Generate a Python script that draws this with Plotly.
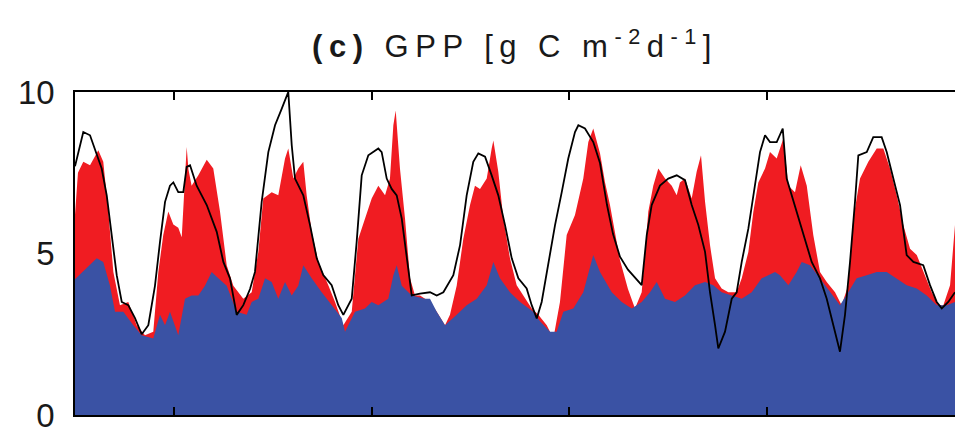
import plotly.graph_objects as go

# ---- data (decimal-year offsets from 1999, GPP in g C m-2 d-1) ----
T0 = 1999.0

obs_t = [0.000, 0.084, 0.152, 0.202, 0.270, 0.321, 0.371, 0.422, 0.473, 0.539, 0.607, 0.675, 0.742,
         0.809, 0.860, 0.911, 0.961, 0.995, 1.045, 1.096, 1.130, 1.164, 1.231, 1.333, 1.434, 1.501,
         1.568, 1.636, 1.703, 1.771, 1.821, 1.889, 1.956, 2.024, 2.091, 2.142, 2.158, 2.193, 2.226,
         2.310, 2.378, 2.446, 2.512, 2.597, 2.664, 2.715, 2.800, 2.850, 2.901, 2.968, 3.069, 3.103,
         3.154, 3.204, 3.255, 3.306, 3.372, 3.407, 3.491, 3.592, 3.660, 3.727, 3.828, 3.896, 3.963,
         4.030, 4.081, 4.149, 4.216, 4.283, 4.351, 4.419, 4.486, 4.570, 4.621, 4.672, 4.722, 4.789,
         4.857, 4.925, 4.991, 5.059, 5.093, 5.160, 5.244, 5.312, 5.383, 5.444, 5.514, 5.595, 5.687,
         5.734, 5.785, 5.835, 5.919, 6.003, 6.088, 6.172, 6.240, 6.307, 6.375, 6.425, 6.476, 6.509,
         6.577, 6.645, 6.695, 6.746, 6.813, 6.880, 6.931, 6.982, 7.032, 7.100, 7.161, 7.201, 7.252,
         7.319, 7.386, 7.454, 7.538, 7.606, 7.673, 7.740, 7.791, 7.842, 7.892, 7.926, 8.011, 8.077,
         8.162, 8.213, 8.280, 8.348, 8.415, 8.483, 8.583, 8.651, 8.719, 8.770, 8.836, 8.904]
obs_gpp = [7.7, 8.76, 8.66, 8.25, 7.63, 6.8, 5.57, 4.33, 3.5, 3.4, 3.0, 2.5, 2.78,
           4.0, 5.36, 6.6, 7.1, 7.2, 6.9, 6.9, 7.68, 7.73, 7.1, 6.5, 5.67, 4.74,
           4.23, 3.1, 3.4, 3.9, 4.43, 6.6, 8.14, 8.97, 9.48, 9.9, 10.0, 8.35, 7.32,
           6.8, 5.88, 4.85, 4.33, 4.02, 3.4, 3.1, 3.6, 5.36, 7.42, 8.04, 8.25, 8.14,
           7.32, 7.0, 6.8, 6.08, 4.54, 3.7, 3.76, 3.8, 3.7, 3.8, 4.33, 5.26, 6.8,
           7.84, 8.1, 8.0, 7.42, 6.8, 5.88, 4.85, 4.23, 3.92, 3.4, 2.99, 3.5, 4.74,
           5.88, 6.9, 7.94, 8.76, 8.97, 8.87, 8.45, 7.8, 6.5, 5.6, 4.9, 4.5, 4.2,
           4.02, 5.57, 6.5, 7.1, 7.32, 7.42, 7.27, 6.5, 5.88, 5.05, 3.8, 2.78, 2.06,
           2.58, 3.6, 3.8, 4.74, 5.77, 7.1, 8.14, 8.66, 8.45, 8.45, 8.87, 7.32, 6.8,
           6.08, 5.36, 4.74, 4.23, 3.6, 2.78, 1.96, 3.1, 4.74, 6.6, 8.04, 8.14, 8.6,
           8.6, 8.14, 7.32, 6.5, 4.95, 4.74, 4.64, 4.02, 3.5, 3.3, 3.5, 3.8]

total_t = [0.000, 0.030, 0.084, 0.152, 0.236, 0.286, 0.337, 0.388, 0.455, 0.539, 0.624, 0.708, 0.792,
           0.843, 0.893, 0.944, 0.995, 1.045, 1.080, 1.113, 1.130, 1.148, 1.180, 1.248, 1.333, 1.399,
           1.467, 1.535, 1.602, 1.703, 1.788, 1.855, 1.905, 1.990, 2.057, 2.125, 2.158, 2.209, 2.259,
           2.310, 2.344, 2.395, 2.462, 2.563, 2.631, 2.715, 2.800, 2.867, 2.934, 3.002, 3.069, 3.137,
           3.187, 3.221, 3.245, 3.288, 3.339, 3.390, 3.440, 3.491, 3.592, 3.660, 3.744, 3.794, 3.862,
           3.929, 3.997, 4.047, 4.098, 4.166, 4.216, 4.233, 4.283, 4.334, 4.401, 4.469, 4.536, 4.621,
           4.688, 4.773, 4.840, 4.907, 4.975, 5.059, 5.143, 5.194, 5.244, 5.312, 5.363, 5.413, 5.514,
           5.595, 5.666, 5.734, 5.801, 5.851, 5.902, 5.970, 6.038, 6.088, 6.121, 6.172, 6.240, 6.290,
           6.334, 6.375, 6.425, 6.476, 6.543, 6.611, 6.695, 6.746, 6.813, 6.864, 6.914, 6.982, 7.032,
           7.100, 7.167, 7.218, 7.285, 7.343, 7.404, 7.470, 7.538, 7.606, 7.690, 7.757, 7.824, 7.875,
           7.943, 8.027, 8.112, 8.179, 8.246, 8.314, 8.381, 8.449, 8.517, 8.583, 8.668, 8.735, 8.786,
           8.854, 8.904]
total_gpp = [6.2, 7.5, 7.84, 7.73, 8.2, 7.84, 6.3, 4.43, 3.4, 3.5, 2.78, 2.47, 2.58,
             4.43, 5.57, 6.3, 5.9, 5.8, 5.5, 7.63, 8.3, 7.6, 7.1, 7.42, 7.9, 7.63,
             6.3, 4.64, 4.0, 3.6, 3.8, 5.05, 6.7, 6.9, 6.8, 7.94, 8.25, 7.32, 7.63,
             7.84, 6.8, 5.67, 4.74, 4.02, 3.5, 2.78, 3.2, 5.46, 6.08, 6.7, 7.1, 6.8,
             7.32, 8.97, 9.43, 7.63, 6.08, 4.23, 3.7, 3.7, 3.5, 3.2, 2.78, 3.1, 4.0,
             5.46, 6.5, 7.1, 7.0, 7.32, 8.25, 8.5, 7.53, 6.08, 4.85, 4.02, 3.7, 3.3,
             3.1, 2.78, 2.37, 3.5, 5.57, 6.19, 7.32, 8.45, 8.87, 8.1, 7.2, 6.5, 4.8,
             3.9, 3.3, 3.8, 6.3, 7.1, 7.63, 7.32, 7.1, 6.8, 7.2, 7.32, 6.7, 7.53,
             8.04, 6.6, 5.26, 4.23, 3.92, 3.8, 3.8, 4.23, 5.05, 6.3, 7.2, 7.63, 8.14,
             7.94, 8.56, 7.1, 6.9, 7.73, 7.1, 5.57, 4.43, 4.12, 3.8, 3.4, 4.02, 6.08,
             7.32, 7.84, 8.25, 8.25, 7.63, 6.8, 5.88, 5.15, 4.95, 4.43, 3.8, 3.4, 3.4,
             4.02, 5.88]

base_t = [0.000, 0.010, 0.152, 0.220, 0.286, 0.354, 0.405, 0.489, 0.590, 0.675, 0.792, 0.860, 0.911,
          0.961, 1.045, 1.113, 1.180, 1.248, 1.315, 1.383, 1.450, 1.535, 1.636, 1.737, 1.788, 1.855,
          1.923, 1.990, 2.057, 2.125, 2.193, 2.259, 2.310, 2.395, 2.496, 2.597, 2.699, 2.732, 2.833,
          2.934, 3.002, 3.069, 3.170, 3.221, 3.255, 3.306, 3.407, 3.541, 3.592, 3.660, 3.744, 3.862,
          3.963, 4.065, 4.166, 4.233, 4.300, 4.401, 4.503, 4.637, 4.705, 4.806, 4.874, 4.941, 5.042,
          5.143, 5.244, 5.312, 5.431, 5.532, 5.633, 5.734, 5.818, 5.886, 5.970, 6.071, 6.172, 6.273,
          6.375, 6.458, 6.543, 6.645, 6.746, 6.847, 6.948, 7.083, 7.133, 7.218, 7.302, 7.353, 7.437,
          7.538, 7.639, 7.740, 7.824, 7.909, 8.011, 8.112, 8.213, 8.314, 8.415, 8.517, 8.618, 8.719,
          8.820, 8.904]
base_gpp = [4.2, 4.23, 4.64, 4.85, 4.74, 4.0, 3.2, 3.2, 2.78, 2.47, 2.37, 3.1, 2.78,
            3.2, 2.47, 3.6, 3.7, 3.7, 4.0, 4.43, 4.23, 4.0, 3.2, 3.1, 3.5, 3.6,
            4.23, 4.12, 3.6, 4.12, 3.7, 4.0, 4.64, 4.23, 3.8, 3.4, 3.0, 2.58, 3.2,
            3.3, 3.5, 3.4, 3.6, 4.33, 4.64, 4.0, 3.7, 3.6, 3.6, 3.2, 2.78, 3.1,
            3.4, 3.6, 4.02, 4.74, 4.23, 3.8, 3.5, 3.2, 2.9, 2.58, 2.58, 3.2, 3.3,
            3.8, 4.95, 4.43, 3.8, 3.5, 3.3, 3.5, 3.8, 4.12, 3.6, 3.5, 3.7, 4.02,
            4.12, 4.02, 3.8, 3.7, 3.6, 3.8, 4.23, 4.43, 4.33, 4.02, 4.43, 4.74, 4.64,
            4.23, 3.8, 3.4, 3.8, 4.23, 4.33, 4.43, 4.43, 4.23, 4.02, 3.92, 3.7, 3.4,
            3.4, 3.5]

year_ticks = [2000, 2002, 2004, 2006]
y_ticks = [0, 5, 10]
y_tick_text = ["0", "5", "10"]
title_text = "<b>(c)</b> GPP [g C m<sup>-2</sup>d<sup>-1</sup>]"

BLUE = "rgb(58,82,164)"
RED = "rgb(240,28,34)"
FONT = "Liberation Sans"

fig = go.Figure()
fig.add_trace(go.Scatter(x=[T0 + v for v in total_t], y=total_gpp, mode="lines",
                         line=dict(width=0, color=RED), fill="tozeroy", fillcolor=RED,
                         hoverinfo="skip"))
fig.add_trace(go.Scatter(x=[T0 + v for v in base_t], y=base_gpp, mode="lines",
                         line=dict(width=0, color=BLUE), fill="tozeroy", fillcolor=BLUE,
                         hoverinfo="skip"))
fig.add_trace(go.Scatter(x=[T0 + v for v in obs_t], y=obs_gpp, mode="lines",
                         line=dict(width=1.8, color="black")))

fig.update_layout(
    width=955, height=430,
    margin=dict(l=75, r=0, t=92, b=15),
    paper_bgcolor="white", plot_bgcolor="white",
    showlegend=False,
    font=dict(family=FONT, color="black"),
    title=dict(text=title_text, x=(75 + 955) / 2 / 955, xanchor="center",
               y=1 - 46 / 430, yanchor="middle", yref="container",
               font=dict(family=FONT, size=31, color="rgb(25,25,25)")),
)
fig.update_xaxes(range=[T0, T0 + 8.904], tickvals=year_ticks, showticklabels=False,
                 ticks="inside", ticklen=8, tickwidth=1.5, tickcolor="black",
                 showline=True, linecolor="black", linewidth=1.5, mirror="ticks",
                 showgrid=False, zeroline=False)
fig.update_yaxes(range=[0, 10], tickvals=y_ticks, ticktext=y_tick_text,
                 ticks="", ticklabelstandoff=12, ticklabeloverflow="allow",
                 tickfont=dict(family=FONT, size=33, color="rgb(25,25,25)"),
                 showline=True, linecolor="black", linewidth=1.5, mirror=False,
                 showgrid=False, zeroline=False, automargin=False)

post = """
var gd = document.getElementById('{plot_id}');
gd.querySelectorAll('.gtitle').forEach(function(t){ t.style.letterSpacing = '6.5px'; });
"""
fig.write_html("out.html", post_script=post)
